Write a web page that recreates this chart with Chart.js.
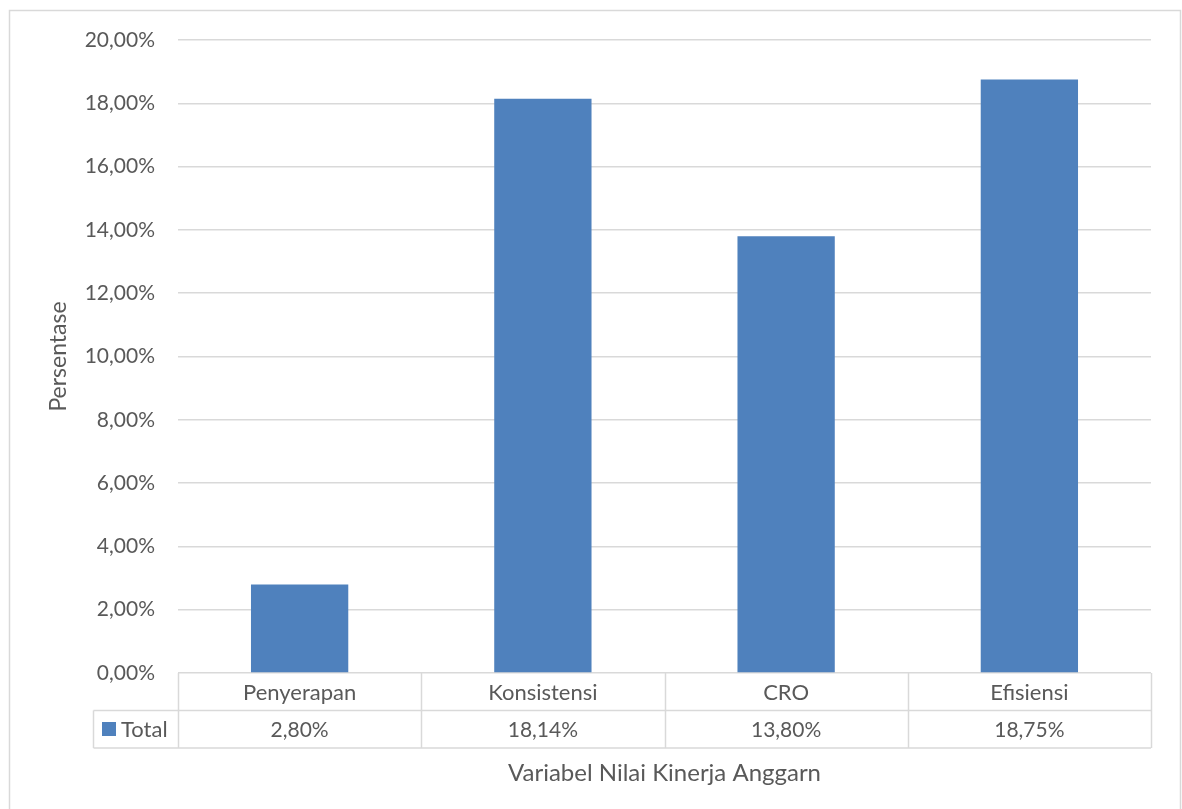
<!DOCTYPE html>
<html>
<head>
<meta charset="utf-8">
<script src="https://cdn.jsdelivr.net/npm/chart.js@4/dist/chart.umd.min.js"></script>
<style>
  html, body { margin: 0; padding: 0; background: #ffffff; }
  #wrap { width: 1182px; height: 809px; position: relative; }
</style>
</head>
<body>
<div id="wrap"><canvas id="c" width="1182" height="809"></canvas></div>
<script>
// Budget performance variables and their percentages
const categories = ['Penyerapan', 'Konsistensi', 'CRO', 'Efisiensi'];
const totalValues = [2.80, 18.14, 13.80, 18.75];
const seriesName = 'Total';
const yTicks = [0, 2, 4, 6, 8, 10, 12, 14, 16, 18, 20];

const FONT = 'Lato, "Open Sans", sans-serif';
const TEXT = '#595959';
const GRID = '#d9d9d9';
const BAR = '#4f81bd';

const fmt = v => v.toFixed(2).replace('.', ',') + '%';

// Draws the outer frame, the data table under the axis and the x-axis title
const tablePlugin = {
  id: 'dataTable',
  beforeDraw(chart) {
    const ctx = chart.ctx;
    ctx.save();
    ctx.fillStyle = '#ffffff';
    ctx.fillRect(0, 0, chart.width, chart.height);
    ctx.strokeStyle = GRID;
    ctx.lineWidth = 1.5;
    ctx.beginPath();
    ctx.moveTo(9.5, chart.height + 5);
    ctx.lineTo(9.5, 10.5);
    ctx.lineTo(1180.5, 10.5);
    ctx.lineTo(1180.5, chart.height + 5);
    ctx.stroke();
    ctx.restore();
  },
  afterDraw(chart) {
    const ctx = chart.ctx;
    const x = chart.scales.x;
    const area = chart.chartArea;
    const n = categories.length;
    const step = (area.right - area.left) / n;
    const y0 = area.bottom;
    const rowH = 37.5;
    const y1 = y0 + rowH;
    const y2 = y1 + rowH;
    const legendLeft = 93.5;

    ctx.save();
    ctx.strokeStyle = GRID;
    ctx.lineWidth = 1.5;
    ctx.beginPath();
    // horizontal rules
    ctx.moveTo(legendLeft, y1); ctx.lineTo(area.right, y1);
    ctx.moveTo(legendLeft, y2); ctx.lineTo(area.right, y2);
    // legend cell left edge
    ctx.moveTo(legendLeft, y1); ctx.lineTo(legendLeft, y2);
    // column separators
    for (let i = 0; i <= n; i++) {
      const cx = Math.round(area.left + i * step) + 0.5;
      ctx.moveTo(cx, y0); ctx.lineTo(cx, y2);
    }
    ctx.stroke();

    ctx.fillStyle = TEXT;
    ctx.textAlign = 'center';
    ctx.textBaseline = 'middle';
    categories.forEach((c, i) => {
      const cx = x.getPixelForValue(i);
      ctx.font = '22px ' + FONT;
      ctx.fillText(c, cx, (y0 + y1) / 2 + 1);
      ctx.font = '21px ' + FONT;
      ctx.fillText(fmt(totalValues[i]), cx, (y1 + y2) / 2 + 1);
    });

    // legend key
    ctx.fillStyle = BAR;
    ctx.fillRect(102, 722, 14, 14);
    ctx.fillStyle = TEXT;
    ctx.textAlign = 'left';
    ctx.font = '22px ' + FONT;
    ctx.fillText(seriesName, 121, (y1 + y2) / 2 + 1);

    // x-axis title
    ctx.textAlign = 'center';
    ctx.font = '24px ' + FONT;
    ctx.fillText('Variabel Nilai Kinerja Anggarn', (area.left + area.right) / 2, 773);
    ctx.restore();
  }
};

new Chart(document.getElementById('c'), {
  type: 'bar',
  data: {
    labels: categories,
    datasets: [{
      label: seriesName,
      data: totalValues,
      backgroundColor: BAR,
      borderWidth: 0,
      categoryPercentage: 1,
      barPercentage: 0.4
    }]
  },
  options: {
    responsive: false,
    animation: false,
    devicePixelRatio: 1,
    layout: { padding: { top: 40, right: 31, bottom: 136, left: 0 } },
    plugins: {
      legend: { display: false },
      tooltip: { enabled: false },
      title: { display: false }
    },
    scales: {
      x: {
        display: false,
        grid: { display: false }
      },
      y: {
        min: 0,
        max: 20,
        afterFit(scale) { scale.width = 178; },
        afterBuildTicks(scale) { scale.ticks = yTicks.map(v => ({ value: v })); },
        border: { display: false },
        grid: { color: GRID, lineWidth: 1.5, drawTicks: false },
        ticks: {
          color: TEXT,
          font: { family: FONT, size: 21 },
          padding: 23,
          callback: v => fmt(v)
        },
        title: {
          display: true,
          text: 'Persentase',
          color: TEXT,
          font: { family: FONT, size: 23 },
          padding: { top: 45, bottom: 0 }
        }
      }
    }
  },
  plugins: [tablePlugin]
});
</script>
</body>
</html>
